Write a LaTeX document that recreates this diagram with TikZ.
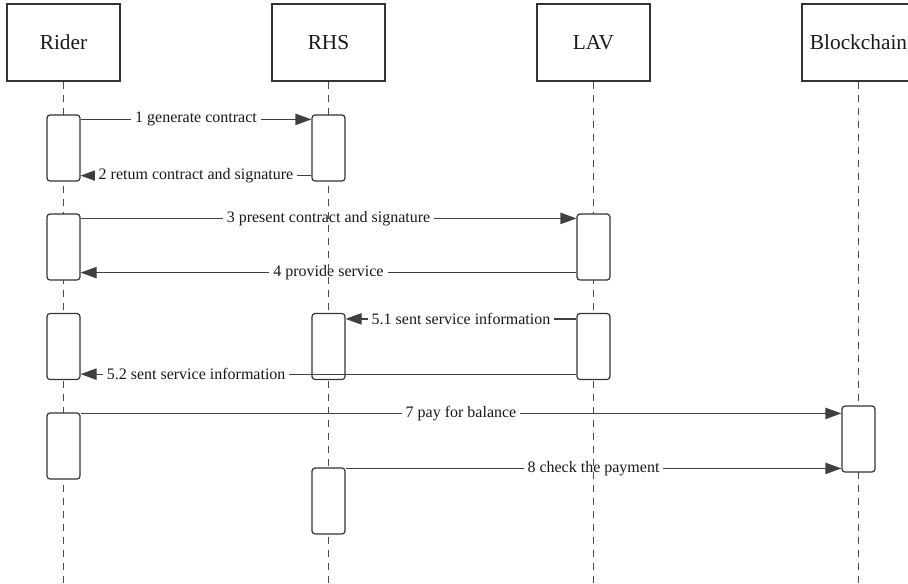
\documentclass[tikz,border=0pt]{standalone}
\usepackage{fontspec}
\setmainfont{Liberation Serif}
\usetikzlibrary{arrows.meta}
\pgfdeclarelayer{back}
\pgfdeclarelayer{mid}
\pgfdeclarelayer{front}
\pgfsetlayers{back,mid,main,front}

\begin{document}
\begin{tikzpicture}[x=0.75pt,y=0.75pt,yscale=-1,xscale=1,
  actor/.style={draw=black!80,line width=1pt,minimum width=84.75pt,minimum height=57.75pt,inner sep=0pt,font=\fontsize{16}{18}\selectfont,text=black!90},
  bar/.style={draw=black!80,fill=white,line width=0.9pt,rounded corners=2.25pt,minimum width=24.75pt,minimum height=49.5pt,inner sep=0pt},
  msg/.style={draw=black!75,line width=0.9pt,-{Triangle[length=12pt,width=8.5pt]}},
  lbl/.style={fill=white,inner xsep=3pt,inner ysep=1pt,font=\fontsize{12}{14}\selectfont,text=black!90},
  lifeline/.style={draw=black!70,line width=0.9pt,dash pattern=on 5.25pt off 4.5pt}]
\useasboundingbox (0,0) rectangle (908,583);

% Actor Boxes
\node[actor] (rider) at (63.5,42.5) {Rider};
\node[actor] (rhs) at (328.5,42.5) {RHS};
\node[actor] (lav) at (593.5,42.5) {LAV};
\node[actor] (chain) at (858.5,42.5) {Blockchain};
\coordinate (bottom) at (0,583);

% Activation Bars
\node[bar] (r1) at (63.5,148) {};
\node[bar] (h1) at (328.5,148) {};
\node[bar] (r2) at (63.5,247) {};
\node[bar] (l1) at (593.5,247) {};
\node[bar] (r3) at (63.5,346.5) {};
\node[bar] (h2) at (328.5,346.5) {};
\node[bar] (l2) at (593.5,346.5) {};
\node[bar] (r4) at (63.5,446) {};
\node[bar] (b1) at (858.5,439) {};
\node[bar] (h3) at (328.5,501) {};

% Lifelines
\begin{pgfonlayer}{mid}
\foreach \a in {rider,rhs,lav,chain}
  \draw[lifeline] (\a.south) -- (\a.south |- bottom);
\end{pgfonlayer}

% Messages (yshift is flipped by yscale=-1)
\begin{pgfonlayer}{back}
\draw[msg] ([yshift=3.75pt]r1.north east) -- ([yshift=3.75pt]h1.north west) node[lbl,pos=0.5] {1 generate contract};
\draw[msg] ([yshift=-4.5pt]h1.south west) -- ([yshift=-4.5pt]r1.south east) node[lbl,pos=0.5] {2 retum contract and signature};
\draw[msg] ([yshift=3.75pt]r2.north east) -- ([yshift=3.75pt]l1.north west) node[lbl,pos=0.5] {3 present contract and signature};
\draw[msg] ([yshift=-6pt]l1.south west) -- ([yshift=-6pt]r2.south east) node[lbl,pos=0.5] {4 provide service};
\draw[msg] ([yshift=4.5pt]l2.north west) -- ([yshift=4.5pt]h2.north east) node[lbl,pos=0.5] {5.1 sent service information};
\draw[msg] ([yshift=0.75pt]r4.north east) -- ([yshift=0.75pt]r4.north east -| b1.west) node[lbl,pos=0.5] {7 pay for balance};
\draw[msg] ([yshift=0.75pt]h3.north east) -- ([yshift=0.75pt]h3.north east -| b1.west) node[lbl,pos=0.5] {8 check the payment};
\end{pgfonlayer}

% crosses the RHS bar
\begin{pgfonlayer}{front}
\draw[msg] ([yshift=-4.5pt]l2.south west) -- ([yshift=-4.5pt]r3.south east) node[lbl,pos=0.767] {5.2 sent service information};
\end{pgfonlayer}

\end{tikzpicture}
\end{document}
